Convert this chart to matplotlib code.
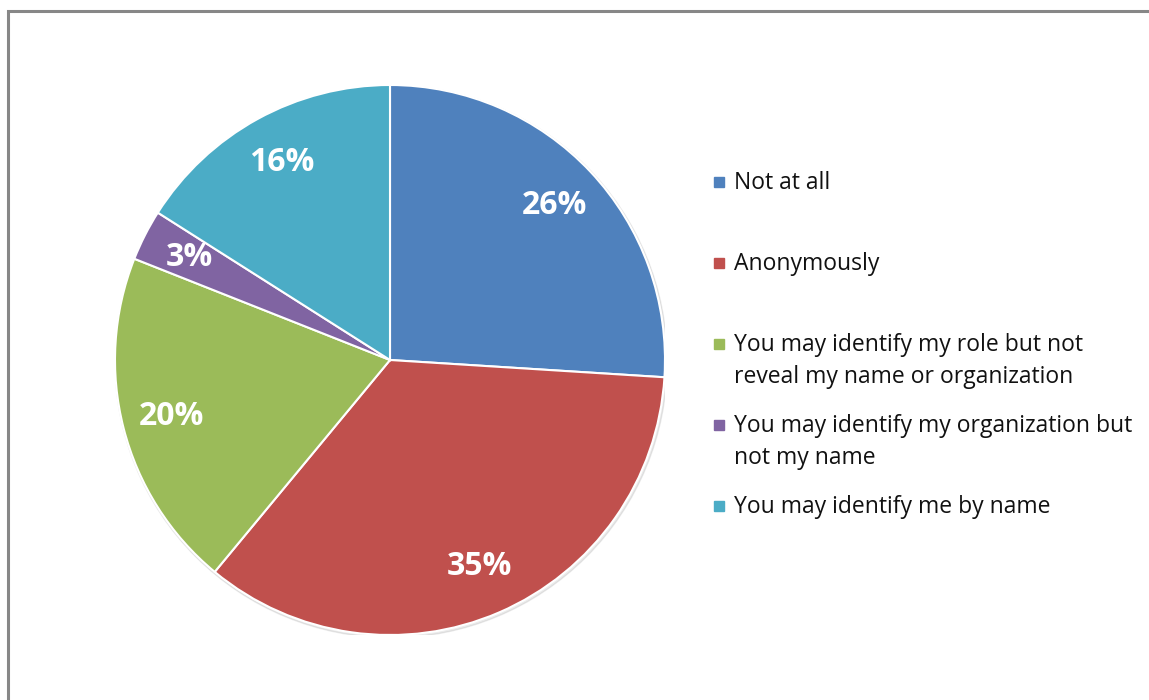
import matplotlib.pyplot as plt
from matplotlib.patches import Rectangle, Circle

labels = ['Not at all', 'Anonymously',
          'You may identify my role but not\nreveal my name or organization',
          'You may identify my organization but\nnot my name',
          'You may identify me by name']
values = [26, 35, 20, 3, 16]
colors = ['#4F81BD', '#C0504D', '#9BBB59', '#8064A2', '#4BACC6']

W, H = 1149, 700
fig = plt.figure(figsize=(W / 100, H / 100), dpi=100)
plt.rcParams['font.family'] = ['Open Sans', 'DejaVu Sans']

# outer chart border (runs off the right/bottom edge)
fig.patches.append(Rectangle((8 / W, -0.1), 1.2, 1.1 - 11 / H, transform=fig.transFigure,
                             fill=False, edgecolor='#878787', linewidth=2.2))

# pie centred at (390, 360) px, radius 275 px
ax = fig.add_axes([115 / W, 65 / H, 550 / W, 550 / H])
ax.add_patch(Circle((0.004, -0.006), 1.004, color='#000000', alpha=0.08, zorder=0))
wedges, texts, autotexts = ax.pie(values, colors=colors, startangle=90, counterclock=False,
                                  autopct='%d%%', pctdistance=0.82, radius=1,
                                  wedgeprops=dict(edgecolor='white', linewidth=1.5))
for t in autotexts:
    t.set_color('white')
    t.set_fontsize(23)
    t.set_fontweight('bold')
ax.set_xlim(-1, 1)
ax.set_ylim(-1, 1)
ax.set_aspect('equal')
ax.axis('off')

# legend, entries with evenly spaced tops
top0, step = 172, 81
for i, (lab, c) in enumerate(zip(labels, colors)):
    y = top0 + i * step
    fig.patches.append(Rectangle((714 / W, 1 - (y + 15) / H), 10 / W, 10 / H,
                                 transform=fig.transFigure, color=c))
    fig.text(734 / W, 1 - (y - 1) / H, lab, fontsize=16.5, va='top', ha='left',
             color='#111111', linespacing=1.45)

fig.savefig('out.png', dpi=100)
